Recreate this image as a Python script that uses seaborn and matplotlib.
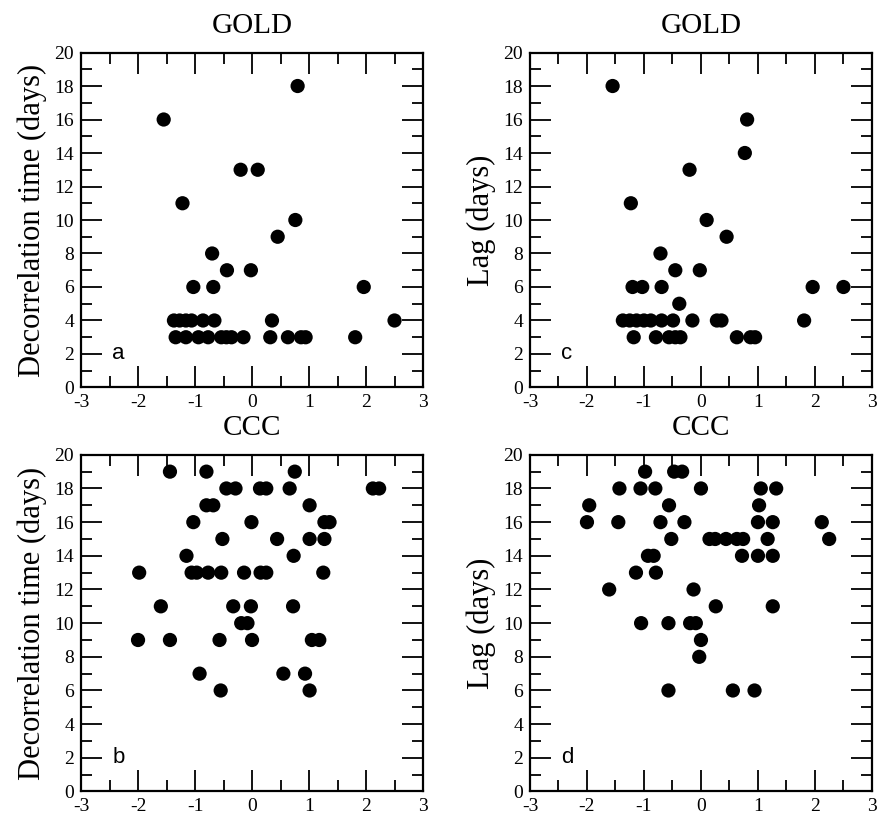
import numpy as np
import pandas as pd
import matplotlib
matplotlib.use("Agg")
import matplotlib.pyplot as plt
import seaborn as sns
from matplotlib.ticker import MultipleLocator

sns.set_theme(style="white")
plt.rcParams['font.family'] = ['Liberation Serif', 'DejaVu Serif']
plt.rcParams['axes.unicode_minus'] = False
plt.rcParams['text.color'] = 'black'
plt.rcParams['axes.labelcolor'] = 'black'

# --- data ---
# a: GOLD, decorrelation time
gold_dec_x = [0.80, -1.55, -0.20, 0.10, -1.22, 0.76, 0.45, -0.70, -0.44, -0.02,
              -1.03, -0.68, 1.96,
              -1.37, -1.27, -1.16, -1.06, -0.86, -0.66, 0.35, 2.50,
              -1.34, -1.16, -0.94, -0.77, -0.54, -0.45, -0.36, -0.15, 0.32, 0.63, 0.86, 0.94, 1.81]
gold_dec_y = [18, 16, 13, 13, 11, 10, 9, 8, 7, 7,
              6, 6, 6,
              4, 4, 4, 4, 4, 4, 4, 4,
              3, 3, 3, 3, 3, 3, 3, 3, 3, 3, 3, 3, 3]

# c: GOLD, lag
gold_lag_x = [-1.55, 0.81, 0.77, -0.20, -1.23, 0.10, 0.45, -0.71, -0.45, -0.02,
              -1.20, -1.03, -0.69, 1.96, 2.50, -0.38,
              -1.37, -1.25, -1.13, -1.00, -0.88, -0.69, -0.49, -0.15, 0.28, 0.36, 1.81,
              -1.18, -0.79, -0.56, -0.45, -0.36, 0.63, 0.87, 0.95]
gold_lag_y = [18, 16, 14, 13, 11, 10, 9, 8, 7, 7,
              6, 6, 6, 6, 6, 5,
              4, 4, 4, 4, 4, 4, 4, 4, 4, 4, 4,
              3, 3, 3, 3, 3, 3, 3, 3]

# b: CCC, decorrelation time
ccc_dec_x = [-1.44, -0.80, 0.75,
             -0.45, -0.29, 0.14, 0.25, 0.66, 2.12, 2.23,
             -0.80, -0.68, 1.01,
             -1.03, -0.01, 1.27, 1.36,
             -0.52, 0.44, 1.01, 1.27,
             -1.15, 0.73,
             -1.98, -1.06, -0.97, -0.77, -0.54, -0.14, 0.15, 0.25, 1.25,
             -1.60, -0.33, -0.02, 0.72,
             -0.19, -0.08,
             -2.00, -1.44, -0.57, 0.00, 1.05, 1.18,
             -0.92, 0.55, 0.93,
             -0.55, 1.01]
ccc_dec_y = [19, 19, 19,
             18, 18, 18, 18, 18, 18, 18,
             17, 17, 17,
             16, 16, 16, 16,
             15, 15, 15, 15,
             14, 14,
             13, 13, 13, 13, 13, 13, 13, 13, 13,
             11, 11, 11, 11,
             10, 10,
             9, 9, 9, 9, 9, 9,
             7, 7, 7,
             6, 6]

# d: CCC, lag
ccc_lag_x = [-0.98, -0.47, -0.33,
             -1.43, -1.06, -0.80, 0.00, 1.05, 1.32,
             -1.96, -0.56, 1.02,
             -2.00, -1.45, -0.71, -0.29, 1.00, 1.26, 2.12,
             -0.52, 0.15, 0.25, 0.44, 0.63, 0.74, 1.17, 2.25,
             -0.93, -0.83, 0.72, 1.00, 1.26,
             -1.14, -0.79,
             -1.61, -0.13,
             0.26, 1.26,
             -1.05, -0.57, -0.19, -0.09,
             0.00, -0.03,
             -0.57, 0.56, 0.94]
ccc_lag_y = [19, 19, 19,
             18, 18, 18, 18, 18, 18,
             17, 17, 17,
             16, 16, 16, 16, 16, 16, 16,
             15, 15, 15, 15, 15, 15, 15, 15,
             14, 14, 14, 14, 14,
             13, 13,
             12, 12,
             11, 11,
             10, 10, 10, 10,
             9, 8,
             6, 6, 6]

panels = [
    # (x, y, title, ylabel, letter, [left, bottom, width, height])
    (gold_dec_x, gold_dec_y, "GOLD", "Decorrelation time (days)", "a", [0.0923, 0.5263, 0.3895, 0.4095]),
    (gold_lag_x, gold_lag_y, "GOLD", "Lag (days)", "c", [0.6036, 0.5263, 0.3895, 0.4095]),
    (ccc_dec_x, ccc_dec_y, "CCC", "Decorrelation time (days)", "b", [0.0923, 0.0324, 0.3895, 0.4116]),
    (ccc_lag_x, ccc_lag_y, "CCC", "Lag (days)", "d", [0.6036, 0.0324, 0.3895, 0.4116]),
]

fig = plt.figure(figsize=(8.78, 8.18), dpi=100)

for xs, ys, title, ylab, letter, rect in panels:
    ax = fig.add_axes(rect)
    df = pd.DataFrame({"x": xs, "y": ys})
    sns.scatterplot(data=df, x="x", y="y", ax=ax, color="black", s=105,
                    edgecolor="none", linewidth=0)
    ax.set_xlim(-3, 3)
    ax.set_ylim(0, 20)
    ax.xaxis.set_major_locator(MultipleLocator(1))
    ax.xaxis.set_minor_locator(MultipleLocator(0.5))
    ax.yaxis.set_major_locator(MultipleLocator(2))
    ax.yaxis.set_minor_locator(MultipleLocator(1))
    ax.tick_params(which="both", direction="in", top=True, right=True,
                   bottom=True, left=True, colors="black", labelcolor="black")
    ax.tick_params(which="major", length=15, width=1.3, labelsize=14, pad=5)
    ax.tick_params(which="minor", length=8, width=1.3)
    for sp in ax.spines.values():
        sp.set_linewidth(1.6)
        sp.set_color("black")
    ax.set_xlabel("")
    ax.set_ylabel(ylab, fontsize=22, labelpad=5, color="black")
    ax.set_title(title, fontsize=21, pad=14, color="black")
    ax.text(-2.45, 1.7, letter, fontsize=16, family=["Liberation Sans", "DejaVu Sans"],
            ha="left", va="baseline", color="black")

fig.savefig("out.png", dpi=100)
